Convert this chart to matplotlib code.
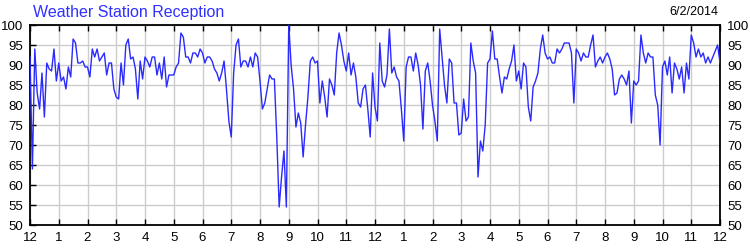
import matplotlib
matplotlib.use("Agg")
import matplotlib.pyplot as plt
import numpy as np

title = "Weather Station Reception"
date_label = "6/2/2014"

# reception % every 5 minutes over 24 hours (289 samples)
reception = [
    92, 64, 94, 83, 79, 88, 77, 90.5, 89, 88.5, 94, 86,
    90.5, 86, 87, 84, 89.5, 87, 96.5, 95.5, 90.5, 90.5, 91, 89.5,
    89.5, 87, 94, 92, 94, 91, 92, 93, 87.5, 90.5, 90.5, 84,
    82, 81.5, 90.5, 85, 95, 96.5, 91.5, 92, 89, 81.5, 91, 86.5,
    92, 91, 89.5, 92, 92, 87.5, 90.5, 86.5, 92, 84.5, 87.5, 87.5,
    87.5, 89.5, 90.5, 98, 97, 92, 92, 90.5, 93, 93, 92, 94,
    93, 90.5, 92, 92, 91, 89, 88, 86, 88, 91, 84, 76,
    72, 88, 95, 96.5, 89.5, 91, 91, 89.5, 92, 89.5, 93, 92,
    86, 79, 80.5, 84, 87.5, 86.5, 86.5, 72, 54.5, 62, 68.5, 54.5,
    100, 90, 84, 74.5, 78, 75.5, 67, 75, 82, 91, 92, 90.5,
    91, 80.5, 86, 82, 77, 86.5, 85, 82.5, 93, 98, 95, 91,
    88.5, 93, 87.5, 90.5, 87, 80.5, 79.5, 84, 85, 79, 72, 88,
    79.5, 76, 95.5, 86, 84.5, 87.5, 99, 88, 89.5, 87, 86, 79,
    71, 89.5, 92, 92, 88.5, 93, 90, 85, 74, 88.5, 90.5, 86,
    80, 76, 71, 99, 92, 85, 80.5, 91.5, 90.5, 80.5, 80.5, 72.5,
    73, 81.5, 76, 77, 95.5, 91, 88, 62, 71, 68.5, 75, 90.5,
    91.5, 98.5, 91.5, 91.5, 87, 83, 87, 86.5, 89, 91, 95, 86,
    88.5, 84, 90.5, 89.5, 79.5, 76, 84.5, 86, 88, 94, 97.5, 93,
    91.5, 92, 90.5, 90.5, 94, 93, 94, 95.5, 95.5, 95.5, 93, 80.5,
    94, 93, 91, 93, 92, 92, 95, 97.5, 89.5, 91, 92, 90.5,
    92, 93, 91.5, 89, 82.5, 83, 86.5, 87.5, 86.5, 85, 88.5, 75.5,
    86, 85, 86, 97.5, 93, 90.5, 93, 92, 92, 82.5, 80, 70,
    89.5, 91, 87.5, 92, 83, 90.5, 89, 86.5, 89.5, 83, 90.5, 86.5,
    97.5, 95.5, 92, 94, 92, 93, 90.5, 92, 90.5, 92, 93.5, 95,
    90.5,
]
hour_labels = ["12", "1", "2", "3", "4", "5", "6", "7", "8", "9", "10", "11",
               "12", "1", "2", "3", "4", "5", "6", "7", "8", "9", "10", "11", "12"]
y_ticks = [50, 55, 60, 65, 70, 75, 80, 85, 90, 95, 100]

plt.rcParams['font.family'] = ['Liberation Sans', 'DejaVu Sans']

fig = plt.figure(figsize=(7.5, 2.5), dpi=100)
ax = fig.add_axes([30/750, 25/250, 690/750, 200/250])

hours = np.arange(len(reception)) * (24.0 / (len(reception) - 1))
ax.plot(hours, reception, color='#2a2aff', lw=1.0, zorder=3)

ax.set_xlim(0, 24)
ax.set_ylim(50, 100)
ax.set_xticks(range(25))
ax.set_xticklabels(hour_labels)
ax.set_yticks(y_ticks)
ax.grid(True, color='#cccccc', lw=1.0)
ax.set_axisbelow(True)

ax.tick_params(axis='x', direction='in', length=4, width=1, top=True, bottom=True,
               labelsize=9.5, pad=5, colors='black')
ax.tick_params(axis='y', direction='in', length=4, width=1, left=True, right=False,
               labelleft=True, labelright=True, labelsize=9.5, pad=5, colors='black')
for s in ax.spines.values():
    s.set_color('black')
    s.set_linewidth(1.3)

fig.text(33/750, 1 - 12/250, title, color='#3030ff', fontsize=11.5, ha='left', va='center')
fig.text(718/750, 1 - 12/250, date_label, color='black', fontsize=9, ha='right', va='center')

fig.savefig("out.png", dpi=100)
